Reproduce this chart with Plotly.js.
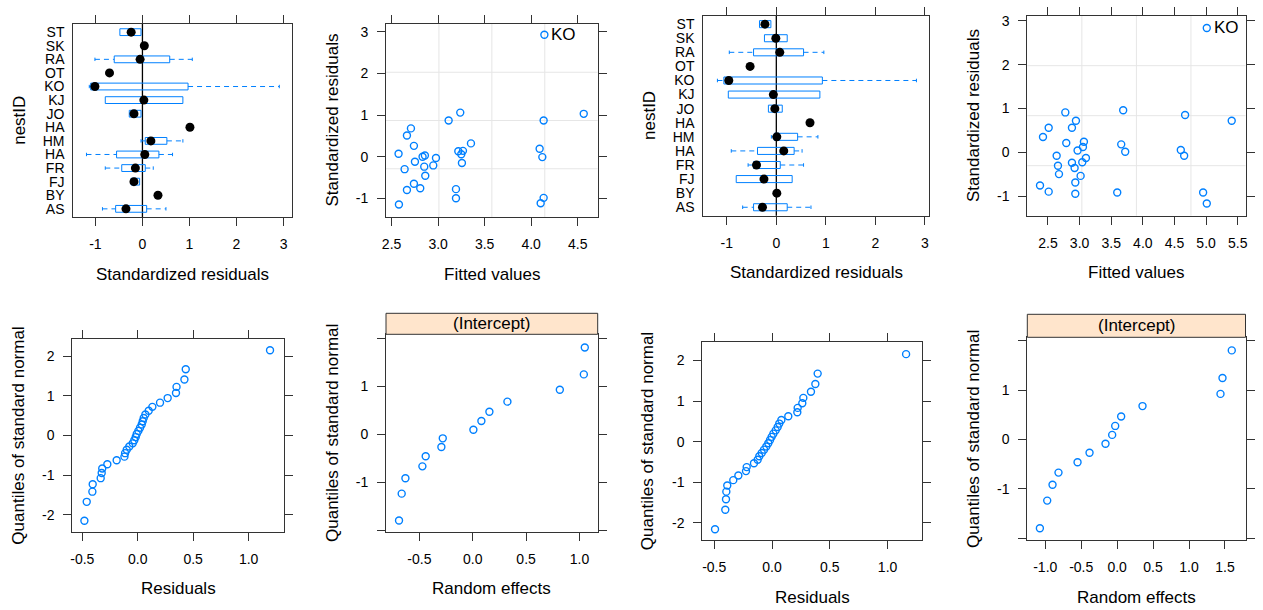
<!DOCTYPE html>
<html><head><meta charset="utf-8">
<script src="https://cdn.plot.ly/plotly-3.0.1.min.js"></script>
<style>html,body{margin:0;padding:0;background:#fff}#chart{width:1263px;height:610px}</style>
</head><body><div id="chart"></div>
<script>
// ---------------- data ----------------
const nestID = ["AS","BY","FJ","FR","HA","HM","HA","JO","KJ","KO","OT","RA","SK","ST"];

// model 1: standardized residuals by nest (box stats)
const m1_lo  = [-0.85, 0.33, -0.24, -0.79, -1.19, -0.03, 1.01, -0.28, -0.79, -1.13, -0.70, -1.01, 0.04, -0.48];
const m1_q1  = [-0.57, 0.33, -0.24, -0.44, -0.55,  0.06, 1.01, -0.28, -0.79, -1.10, -0.70, -0.60, 0.04, -0.48];
const m1_med = [-0.35, 0.33, -0.18, -0.15,  0.05,  0.18, 1.01, -0.18,  0.03, -1.01, -0.70, -0.05, 0.04, -0.24];
const m1_q3  = [ 0.09, 0.33, -0.06,  0.06,  0.35,  0.52, 1.01, -0.03,  0.86,  0.97, -0.70,  0.58, 0.04, -0.03];
const m1_hi  = [ 0.50, 0.33, -0.06,  0.23,  0.64,  0.86, 1.01, -0.03,  0.86,  2.91, -0.70,  1.06, 0.04, -0.03];

// model 2: standardized residuals by nest (box stats)
const m2_lo  = [-0.68, 0.01, -0.81, -0.57, -0.91, -0.10, 0.68, -0.16, -0.97, -1.19, -0.53, -0.95, -0.24, -0.34];
const m2_q1  = [-0.46, 0.01, -0.81, -0.46, -0.38, -0.04, 0.68, -0.16, -0.97, -1.06, -0.53, -0.46, -0.24, -0.34];
const m2_med = [-0.28, 0.01, -0.25, -0.40,  0.15,  0.01, 0.68, -0.03, -0.06, -0.96, -0.53,  0.07, -0.01, -0.23];
const m2_q3  = [ 0.22, 0.01,  0.32,  0.08,  0.36,  0.43, 0.68,  0.12,  0.88,  0.93, -0.53,  0.55,  0.22, -0.11];
const m2_hi  = [ 0.70, 0.01,  0.32,  0.55,  0.52,  0.84, 0.68,  0.12,  0.88,  2.83, -0.53,  0.96,  0.22, -0.11];

// model 1: fitted values vs standardized residuals
const m1_fit = [4.142, 3.238, 3.113, 4.565, 4.134, 2.708, 2.665, 2.740, 3.353, 2.575, 3.217, 3.267, 3.249, 3.256, 4.091, 4.120,
                2.858, 2.833, 2.977, 2.751, 2.948, 2.851, 2.640, 2.862, 2.740, 2.808, 2.665, 3.192, 3.192, 2.579, 4.134, 4.102];
const m1_res = [2.93, 1.06, 0.87, 1.03, 0.87, 0.68, 0.51, 0.26, 0.32, 0.07, 0.13, 0.14, 0.06, -0.15, 0.19, -0.01,
                0.03, 0.00, -0.03, -0.12, -0.21, -0.24, -0.30, -0.46, -0.65, -0.76, -0.80, -0.78, -1.00, -1.15, -0.99, -1.12];
const m1_lab = ["KO"]; const m1_lab_fit = [4.142]; const m1_lab_res = [2.93];

// model 2: fitted values vs standardized residuals
const m2_fit = [5.011, 3.689, 2.774, 4.668, 5.405, 2.942, 2.511, 2.879, 2.421, 2.789, 3.658, 3.068, 3.053, 2.968, 3.721, 4.600,
                4.653, 2.637, 3.100, 3.042, 2.879, 2.658, 2.921, 2.674, 3.016, 2.932, 2.374, 2.511, 2.932, 3.595, 4.953, 5.011];
const m2_res = [2.84, 0.96, 0.91, 0.85, 0.72, 0.72, 0.56, 0.56, 0.35, 0.21, 0.18, 0.24, 0.12, 0.04, 0.01, 0.05,
                -0.08, -0.08, -0.13, -0.23, -0.24, -0.31, -0.36, -0.50, -0.54, -0.69, -0.76, -0.90, -0.95, -0.92, -0.92, -1.17];
const m2_lab = ["KO"]; const m2_lab_fit = [5.011]; const m2_lab_res = [2.84];

// normal QQ of residuals (n = 32)
const qq_norm32 = [-2.154, -1.675, -1.418, -1.230, -1.077, -0.947, -0.831, -0.725, -0.626, -0.533, -0.445, -0.360, -0.278, -0.197, -0.118, -0.039,
                    0.039, 0.118, 0.197, 0.278, 0.360, 0.445, 0.533, 0.626, 0.725, 0.831, 0.947, 1.077, 1.230, 1.418, 1.675, 2.154];
const m1_resid_sorted = [-0.481, -0.460, -0.409, -0.406, -0.334, -0.325, -0.320, -0.274, -0.190, -0.120, -0.114, -0.099, -0.076, -0.045, -0.031, -0.018,
                         -0.009, 0.006, 0.021, 0.036, 0.045, 0.054, 0.069, 0.099, 0.132, 0.201, 0.270, 0.345, 0.350, 0.421, 0.433, 1.193];
const m2_resid_sorted = [-0.493, -0.404, -0.398, -0.395, -0.387, -0.335, -0.291, -0.225, -0.219, -0.156, -0.124, -0.110, -0.089, -0.069, -0.049, -0.032,
                         -0.017, -0.003, 0.012, 0.032, 0.049, 0.063, 0.081, 0.141, 0.219, 0.222, 0.262, 0.271, 0.337, 0.375, 0.395, 1.160];

// normal QQ of random effects (n = 14)
const qq_norm14 = [-1.803, -1.242, -0.921, -0.674, -0.464, -0.272, -0.090, 0.090, 0.272, 0.464, 0.674, 0.921, 1.242, 1.803];
const m1_ranef_sorted = [-0.691, -0.666, -0.631, -0.472, -0.441, -0.294, -0.281, 0.006, 0.081, 0.156, 0.325, 0.816, 1.041, 1.050];
const m2_ranef_sorted = [-1.075, -0.973, -0.899, -0.816, -0.551, -0.384, -0.162, -0.069, -0.027, 0.056, 0.353, 1.438, 1.466, 1.595];

const stripLabel = "(Intercept)";

// ---------------- styling / layout ----------------
const W = 1263, H = 610;
const BLUE = "#0080ff", FRAME = "#333333";
const FONT = "Liberation Sans, Arial, sans-serif";
// panel frames in pixels [left, top, right, bottom]
const P = {
  1: [73.3, 24, 292, 217],
  2: [386, 24, 597.7, 217],
  3: [703.3, 15.7, 929, 215.7],
  4: [1027.3, 15.7, 1245.5, 215.7],
  5: [72.3, 339, 284, 531.7],
  6: [386, 334.3, 597.7, 531.7],
  7: [702.3, 341.7, 921.7, 540],
  8: [1027.3, 337.3, 1245.5, 540]
};
const strips = {6: 313.3, 8: 314.3};
const xd = k => [P[k][0] / W, P[k][2] / W];
const yd = k => [1 - P[k][3] / H, 1 - P[k][1] / H];

function fmt(v, d) { const s = v.toFixed(d); return s.replace("\u2212", "-"); }
function seq(a, b, s) { const o = []; for (let v = a; v <= b + 1e-9; v += s) o.push(Math.round(v * 100) / 100); return o; }

const tickFont = {family: FONT, size: 14, color: "#000"};
function numAxis(k, axLetter, range, vals, dec, mirror, blankEnds) {
  const txt = vals.map(v => fmt(v, dec));
  if (blankEnds) { txt[0] = ""; txt[txt.length - 1] = ""; }
  return {
    domain: axLetter === "x" ? xd(k) : yd(k),
    anchor: (axLetter === "x" ? "y" : "x") + (k === 1 ? "" : k),
    range: range, tickmode: "array", tickvals: vals, ticktext: txt,
    ticks: "outside", ticklen: 8, tickwidth: 1, tickcolor: FRAME,
    showline: true, linecolor: FRAME, linewidth: 1, mirror: mirror,
    showgrid: false, zeroline: false, tickfont: tickFont, ticklabelstandoff: 6,
    fixedrange: true
  };
}
function catAxis(k) {
  return {
    domain: yd(k), anchor: "x" + (k === 1 ? "" : k),
    range: [0.4, nestID.length + 0.6], tickmode: "array",
    tickvals: nestID.map((_, i) => i + 1), ticktext: nestID,
    ticks: "", showline: true, linecolor: FRAME, linewidth: 1, mirror: true,
    showgrid: false, zeroline: false, tickfont: tickFont, ticklabelstandoff: 5
  };
}

const layout = {
  width: W, height: H, margin: {l: 0, r: 0, t: 0, b: 0},
  paper_bgcolor: "#fff", plot_bgcolor: "#fff", showlegend: false,
  font: {family: FONT, color: "#000"},
  xaxis:  numAxis(1, "x", [-1.47, 3.18], seq(-1, 3, 1), 0, "ticks"),
  yaxis:  catAxis(1),
  xaxis2: numAxis(2, "x", [2.44, 4.715], seq(2.5, 4.5, 0.5), 1, "ticks"),
  yaxis2: numAxis(2, "y", [-1.45, 3.19], seq(-1, 3, 1), 0, "ticks"),
  xaxis3: numAxis(3, "x", [-1.475, 3.084], seq(-1, 3, 1), 0, "ticks"),
  yaxis3: catAxis(3),
  xaxis4: numAxis(4, "x", [2.173, 5.623], seq(2.5, 5.5, 0.5), 1, "ticks"),
  yaxis4: numAxis(4, "y", [-1.45, 3.12], seq(-1, 3, 1), 0, "ticks"),
  xaxis5: numAxis(5, "x", [-0.59, 1.319], seq(-0.5, 1.0, 0.5), 1, "ticks"),
  yaxis5: numAxis(5, "y", [-2.43, 2.44], seq(-2, 2, 1), 0, "ticks"),
  xaxis6: numAxis(6, "x", [-0.813, 1.171], seq(-0.5, 1.0, 0.5), 1, true),
  yaxis6: numAxis(6, "y", [-2.035, 2.077], seq(-2, 2, 1), 0, "ticks", true),
  xaxis7: numAxis(7, "x", [-0.603, 1.295], seq(-0.5, 1.0, 0.5), 1, "ticks"),
  yaxis7: numAxis(7, "y", [-2.42, 2.46], seq(-2, 2, 1), 0, "ticks"),
  xaxis8: numAxis(8, "x", [-1.25, 1.786], seq(-1.0, 1.5, 0.5), 1, true),
  yaxis8: numAxis(8, "y", [-2.04, 2.068], seq(-2, 2, 1), 0, "ticks", true),
  shapes: [], annotations: []
};

// light grid for the fitted-vs-residual panels (3 evenly spaced lines each way)
[2, 4].forEach(k => {
  const xr = layout["xaxis" + k].range, yr = layout["yaxis" + k].range;
  for (let j = 1; j <= 3; j++) {
    const gx = xr[0] + (xr[1] - xr[0]) * j / 4, gy = yr[0] + (yr[1] - yr[0]) * j / 4;
    layout.shapes.push({type: "line", xref: "x" + k, yref: "y" + k + " domain", x0: gx, x1: gx, y0: 0, y1: 1,
                        line: {color: "#e6e6e6", width: 1}, layer: "below"});
    layout.shapes.push({type: "line", xref: "x" + k + " domain", yref: "y" + k, x0: 0, x1: 1, y0: gy, y1: gy,
                        line: {color: "#e6e6e6", width: 1}, layer: "below"});
  }
});
// zero reference line in box panels
[1, 3].forEach(k => {
  const ax = k === 1 ? "" : k;
  layout.shapes.push({type: "line", xref: "x" + ax, yref: "y" + ax + " domain", x0: 0, x1: 0, y0: 0, y1: 1,
                      line: {color: "#000", width: 1.3}, layer: "below"});
});
// strips
Object.keys(strips).forEach(k => {
  const top = strips[k], bot = P[k][1];
  layout.shapes.push({type: "rect", xref: "paper", yref: "paper", x0: P[k][0] / W, x1: P[k][2] / W,
                      y0: 1 - bot / H, y1: 1 - top / H, fillcolor: "#ffe5cc", line: {color: FRAME, width: 1}, layer: "above"});
  layout.annotations.push({xref: "paper", yref: "paper", x: (P[k][0] + P[k][2]) / 2 / W, y: 1 - (top + bot) / 2 / H,
                           text: stripLabel, showarrow: false, xanchor: "center", yanchor: "middle",
                           font: {family: FONT, size: 17, color: "#000"}});
});

// axis titles
const titles = {
  1: ["Standardized residuals", "nestID"], 2: ["Fitted values", "Standardized residuals"],
  3: ["Standardized residuals", "nestID"], 4: ["Fitted values", "Standardized residuals"],
  5: ["Residuals", "Quantiles of standard normal"], 6: ["Random effects", "Quantiles of standard normal"],
  7: ["Residuals", "Quantiles of standard normal"], 8: ["Random effects", "Quantiles of standard normal"]
};
Object.keys(titles).forEach(k => {
  const [l, t, r, b] = P[k];
  layout.annotations.push({xref: "paper", yref: "paper", x: (l + r) / 2 / W, y: 1 - (b + 57) / H,
    text: titles[k][0], showarrow: false, xanchor: "center", yanchor: "middle",
    font: {family: FONT, size: 17, color: "#000"}});
  layout.annotations.push({xref: "paper", yref: "paper", x: (l - 54) / W, y: 1 - (t + b) / 2 / H,
    text: titles[k][1], showarrow: false, textangle: -90, xanchor: "center", yanchor: "middle",
    font: {family: FONT, size: 17, color: "#000"}});
});

// ---------------- traces ----------------
const traces = [];
function boxPanel(k, lo, q1, med, q3, hi) {
  const ax = k === 1 ? "" : String(k);
  const bx = [], by = [], wx = [], wy = [], cx = [], cy = [];
  const hb = 0.25, hc = 0.125;
  for (let i = 0; i < nestID.length; i++) {
    const y = i + 1;
    bx.push(q1[i], q3[i], q3[i], q1[i], q1[i], null);
    by.push(y - hb, y - hb, y + hb, y + hb, y - hb, null);
    if (lo[i] < q1[i]) { wx.push(lo[i], q1[i], null); wy.push(y, y, null); cx.push(lo[i], lo[i], null); cy.push(y - hc, y + hc, null); }
    if (hi[i] > q3[i]) { wx.push(q3[i], hi[i], null); wy.push(y, y, null); cx.push(hi[i], hi[i], null); cy.push(y - hc, y + hc, null); }
  }
  traces.push({type: "scatter", mode: "lines", x: wx, y: wy, xaxis: "x" + ax, yaxis: "y" + ax,
               line: {color: BLUE, width: 1, dash: "5px,4px"}, hoverinfo: "skip"});
  traces.push({type: "scatter", mode: "lines", x: cx, y: cy, xaxis: "x" + ax, yaxis: "y" + ax,
               line: {color: BLUE, width: 1}, hoverinfo: "skip"});
  traces.push({type: "scatter", mode: "lines", x: bx, y: by, xaxis: "x" + ax, yaxis: "y" + ax,
               line: {color: BLUE, width: 1}, hoverinfo: "skip"});
  traces.push({type: "scatter", mode: "markers", x: med, y: nestID.map((_, i) => i + 1), xaxis: "x" + ax, yaxis: "y" + ax,
               marker: {color: "#000", size: 9, symbol: "circle"}});
}
function pointPanel(k, xs, ys) {
  traces.push({type: "scatter", mode: "markers", x: xs, y: ys, xaxis: "x" + k, yaxis: "y" + k,
               marker: {symbol: "circle-open", size: 7, color: BLUE, line: {width: 1.4, color: BLUE}}});
}
function labelPoints(k, labs, xs, ys) {
  labs.forEach((t, i) => layout.annotations.push({xref: "x" + k, yref: "y" + k, x: xs[i], y: ys[i], text: t,
    showarrow: false, xanchor: "left", yanchor: "middle", xshift: 5, font: {family: FONT, size: 17, color: "#000"}}));
}

boxPanel(1, m1_lo, m1_q1, m1_med, m1_q3, m1_hi);
pointPanel(2, m1_fit, m1_res); labelPoints(2, m1_lab, m1_lab_fit, m1_lab_res);
boxPanel(3, m2_lo, m2_q1, m2_med, m2_q3, m2_hi);
pointPanel(4, m2_fit, m2_res); labelPoints(4, m2_lab, m2_lab_fit, m2_lab_res);
pointPanel(5, m1_resid_sorted, qq_norm32);
pointPanel(6, m1_ranef_sorted, qq_norm14);
pointPanel(7, m2_resid_sorted, qq_norm32);
pointPanel(8, m2_ranef_sorted, qq_norm14);

Plotly.newPlot("chart", traces, layout, {staticPlot: true, displayModeBar: false});
</script>
</body></html>
